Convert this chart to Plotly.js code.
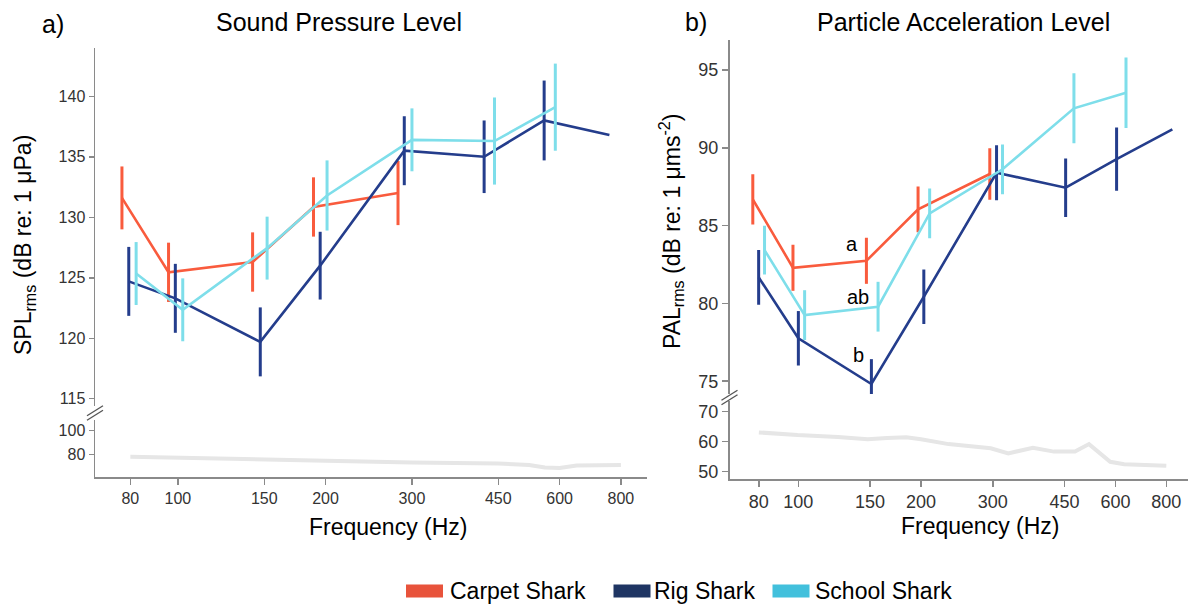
<!DOCTYPE html>
<html>
<head>
<meta charset="utf-8">
<script src="https://cdn.plot.ly/plotly-3.0.1.min.js"></script>
<style>html,body{margin:0;padding:0;background:#fff;}#chart{width:1190px;height:605px;}</style>
</head>
<body>
<div id="chart"></div>
<script>
// ---------- data ----------
const freqTicks = [80, 100, 150, 200, 300, 450, 600, 800];
const seriesNames = ['Carpet Shark', 'Rig Shark', 'School Shark'];
const lineColors = ['#F95B3D', '#243D8C', '#7EDEEA'];
const legendColors = ['#E8533B', '#1F3563', '#42C0DC'];

// Panel a: Sound Pressure Level (dB re: 1 uPa)
const splCarpetF = [76.9, 95.7, 142, 189, 281];
const splCarpet = [131.6, 125.45, 126.3, 130.85, 132.0];
const splCarpetErr = [2.6, 2.45, 2.45, 2.45, 2.65];
const splRigF = [79.4, 98.8, 147.2, 195, 289.4, 421, 558, 758];
const splRig = [124.7, 123.3, 119.7, 126.0, 135.5, 135.0, 138.0, 136.8];
const splRigErr = [2.85, 2.85, 2.85, 2.8, 2.85, 3.0, 3.3, 0];
const splSchoolF = [82.2, 102.3, 152, 201.4, 300, 442, 588];
const splSchool = [125.35, 122.35, 127.45, 131.8, 136.4, 136.3, 139.1];
const splSchoolErr = [2.6, 2.6, 2.6, 2.9, 2.6, 3.6, 3.6];
const splNoiseF = [80, 100, 150, 200, 300, 450, 520, 560, 600, 650, 800];
const splNoise = [78, 77.3, 75.8, 74.6, 73, 72.2, 70.9, 68.8, 68.4, 70.5, 70.9];

// Panel b: Particle Acceleration Level (dB re: 1 ums-2)
const palCarpetF = [77.3, 97, 146.9, 196.7, 295];
const palCarpet = [86.69, 82.29, 82.74, 86.05, 88.32];
const palCarpetErr = [1.61, 1.48, 1.48, 1.47, 1.66];
const palRigF = [79.9, 100, 151.1, 203.2, 306.5, 452.9, 604, 827.8];
const palRig = [81.68, 77.76, 74.82, 80.43, 88.4, 87.44, 89.28, 91.19];
const palRigErr = [1.76, 1.75, 1.6, 1.75, 1.77, 1.88, 2.03, 0];
const palSchoolF = [82.6, 103.6, 156.9, 210, 317, 474.6, 637];
const palSchool = [83.43, 79.25, 79.79, 85.79, 88.62, 92.54, 93.54];
const palSchoolErr = [1.57, 1.6, 1.6, 1.6, 1.6, 2.25, 2.27];
const palNoiseF = [80, 99.5, 125, 148, 165, 184, 200, 233.7, 296.6, 327.5, 376.4, 423.9, 477.4, 516.8, 582.6, 630.5, 800];
const palNoise = [63.1, 62.2, 61.6, 60.8, 61.2, 61.5, 60.8, 59.2, 57.8, 56.1, 58.0, 56.7, 56.7, 59.2, 53.3, 52.5, 52.0];

// Significance letters (panel b, 150 Hz)
const sigLabels = ['a', 'ab', 'b'];
const sigF = [135.4, 139.8, 140.7];
const sigY = [83.82, 80.43, 76.68];

// ---------- helpers ----------
const W = 1190, H = 605;
const px = x => x / W;
const py = y => 1 - y / H;
const FONT = 'Liberation Sans, Arial, sans-serif';

function meanTrace(f, v, e, color, xa, ya, name) {
  return {
    x: f, y: v, type: 'scatter', mode: 'lines', name: name, showlegend: false,
    xaxis: xa, yaxis: ya,
    line: {color: color, width: 2.6},
    error_y: {type: 'data', array: e, visible: true, width: 0, thickness: 3, color: color},
    hoverinfo: 'x+y'
  };
}
function noiseTrace(f, v, xa, ya) {
  return {x: f, y: v, type: 'scatter', mode: 'lines', showlegend: false,
    xaxis: xa, yaxis: ya, line: {color: '#E6E6E6', width: 4}, hoverinfo: 'skip'};
}

const traces = [
  noiseTrace(splNoiseF, splNoise, 'x', 'y2'),
  meanTrace(splCarpetF, splCarpet, splCarpetErr, lineColors[0], 'x', 'y', seriesNames[0]),
  meanTrace(splRigF, splRig, splRigErr, lineColors[1], 'x', 'y', seriesNames[1]),
  meanTrace(splSchoolF, splSchool, splSchoolErr, lineColors[2], 'x', 'y', seriesNames[2]),
  noiseTrace(palNoiseF, palNoise, 'x2', 'y4'),
  meanTrace(palCarpetF, palCarpet, palCarpetErr, lineColors[0], 'x2', 'y3', seriesNames[0]),
  meanTrace(palRigF, palRig, palRigErr, lineColors[1], 'x2', 'y3', seriesNames[1]),
  meanTrace(palSchoolF, palSchool, palSchoolErr, lineColors[2], 'x2', 'y3', seriesNames[2])
];

const axCol = '#8A8A8A';
function xAxis(domain, anchor, fs) {
  return {type: 'log', domain: domain, range: [1.831, 2.9563], anchor: anchor,
    tickvals: freqTicks, ticktext: freqTicks.map(String),
    showline: true, linecolor: axCol, linewidth: 1.5, ticks: 'outside', ticklen: 6,
    tickcolor: axCol, tickwidth: 1.5, tickfont: {size: fs, color: '#333', family: FONT},
    showgrid: false, zeroline: false, fixedrange: true};
}
function yAxis(domain, range, anchor, tv, fs, tl) {
  return {domain: domain, range: range, anchor: anchor, tickvals: tv,
    showline: true, linecolor: axCol, linewidth: 1.5, ticks: 'outside', ticklen: tl,
    tickcolor: axCol, tickwidth: 1.5, tickfont: {size: fs, color: '#333', family: FONT},
    showgrid: false, zeroline: false, fixedrange: true};
}

const annotations = [];
function ann(text, x, y, size, extra) {
  annotations.push(Object.assign({text: text, x: px(x), y: py(y), xref: 'paper', yref: 'paper',
    showarrow: false, xanchor: 'center', yanchor: 'middle',
    font: {size: size, color: '#000', family: FONT}}, extra || {}));
}
ann('a)', 53, 24, 25);
ann('Sound Pressure Level', 338.5, 22, 25);
ann('b)', 696, 22, 25);
ann('Particle Acceleration Level', 963, 22, 25);
ann('Frequency (Hz)', 388, 527, 23);
ann('Frequency (Hz)', 980, 526, 23);
ann('SPL<sub>rms</sub> (dB re: 1 \u03bcPa)', 24, 245, 23, {textangle: -90});
ann('PAL<sub>rms</sub> (dB re: 1 \u03bcms<sup>-2</sup>)', 671, 232, 23, {textangle: -90});
sigLabels.forEach((t, i) => {
  annotations.push({text: t, x: Math.log10(sigF[i]), y: sigY[i], xref: 'x2', yref: 'y3',
    showarrow: false, xanchor: 'center', yanchor: 'middle', font: {size: 20, color: '#000', family: FONT}});
});

// legend (drawn manually)
const shapes = [];
const swatchX = [406, 613.5, 772.5];
const textX = [448, 651.5, 813];
seriesNames.forEach((n, i) => {
  shapes.push({type: 'rect', xref: 'paper', yref: 'paper', x0: px(swatchX[i]), x1: px(swatchX[i] + 37),
    y0: py(597.5), y1: py(584.5), fillcolor: legendColors[i], line: {width: 0}});
  ann(n, textX[i], 591, 23, {xanchor: 'left'});
});
// axis break marks
function brk(cx, cy) {
  [-2.2, 2.2].forEach(d => {
    shapes.push({type: 'line', xref: 'paper', yref: 'paper',
      x0: px(cx - 8), y0: py(cy + d + 5), x1: px(cx + 8), y1: py(cy + d - 5),
      line: {color: '#555', width: 1.3}});
  });
}
brk(95, 413);
brk(729.5, 397.5);

const layout = {
  width: W, height: H, margin: {l: 0, r: 0, t: 0, b: 0},
  paper_bgcolor: '#fff', plot_bgcolor: 'rgba(0,0,0,0)', showlegend: false,
  font: {family: FONT},
  xaxis: xAxis([px(95), px(647)], 'y2', 16),
  yaxis: yAxis([py(406), py(48)], [114.40, 143.99], 'x', [115, 120, 125, 130, 135, 140], 16, 5),
  yaxis2: yAxis([py(477), py(420)], [60.76, 109.07], 'x', [80, 100], 16, 5),
  xaxis2: xAxis([px(729.5), px(1188)], 'y4', 18),
  yaxis3: yAxis([py(394), py(40)], [74.18, 96.93], 'x2', [75, 80, 85, 90, 95], 18, 6),
  yaxis4: yAxis([py(479), py(401)], [47.57, 73.57], 'x2', [50, 60, 70], 18, 6),
  annotations: annotations,
  shapes: shapes
};

Plotly.newPlot('chart', traces, layout, {displayModeBar: false, staticPlot: true});
</script>
</body>
</html>
